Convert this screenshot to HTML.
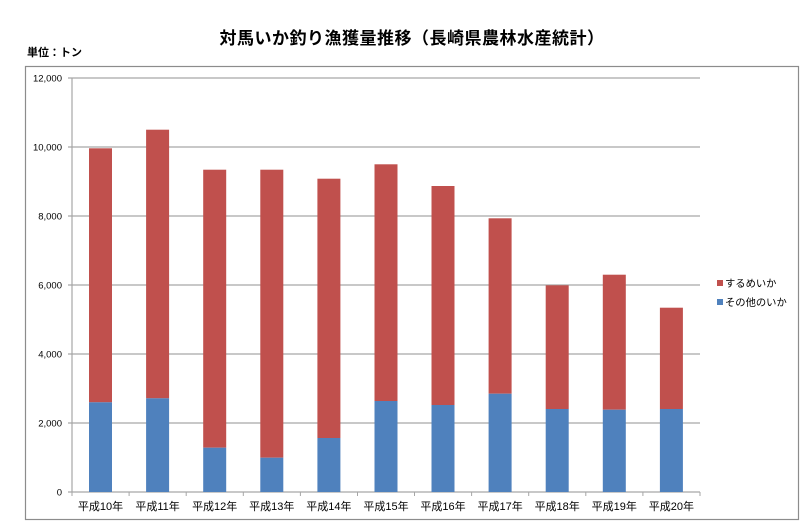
<!DOCTYPE html>
<html><head><meta charset="utf-8"><style>
html,body{margin:0;padding:0;background:#fff;}
svg{display:block;}
text{font-family:"Liberation Sans","Noto Sans CJK JP",sans-serif;fill:#000;}
</style></head><body>
<svg width="800" height="530" viewBox="0 0 800 530" xmlns="http://www.w3.org/2000/svg">
<rect x="0" y="0" width="800" height="530" fill="#fff"/>
<text x="412" y="44" text-anchor="middle" font-size="17" font-weight="bold" letter-spacing="0.5">対馬いか釣り漁獲量推移（長崎県農林水産統計）</text>
<text x="27" y="56" font-size="11" font-weight="bold">単位：トン</text>
<rect x="25.5" y="66.5" width="773" height="453" fill="none" stroke="#8c8c8c" stroke-width="1.2"/>
<g stroke="#a6a6a6" stroke-width="1.2">
<line x1="68" y1="78" x2="700" y2="78"/>
<line x1="68" y1="147" x2="700" y2="147"/>
<line x1="68" y1="216" x2="700" y2="216"/>
<line x1="68" y1="285" x2="700" y2="285"/>
<line x1="68" y1="354" x2="700" y2="354"/>
<line x1="68" y1="423" x2="700" y2="423"/>
<line x1="68" y1="492" x2="700" y2="492"/>
<line x1="72" y1="78" x2="72" y2="492"/>
</g>
<g stroke="#a6a6a6" stroke-width="1">
<line x1="72" y1="492" x2="72" y2="496"/>
<line x1="129.1" y1="492" x2="129.1" y2="496"/>
<line x1="186.2" y1="492" x2="186.2" y2="496"/>
<line x1="243.3" y1="492" x2="243.3" y2="496"/>
<line x1="300.4" y1="492" x2="300.4" y2="496"/>
<line x1="357.5" y1="492" x2="357.5" y2="496"/>
<line x1="414.5" y1="492" x2="414.5" y2="496"/>
<line x1="471.6" y1="492" x2="471.6" y2="496"/>
<line x1="528.7" y1="492" x2="528.7" y2="496"/>
<line x1="585.8" y1="492" x2="585.8" y2="496"/>
<line x1="642.9" y1="492" x2="642.9" y2="496"/>
<line x1="700" y1="492" x2="700" y2="496"/>
</g>
<g font-size="9.5" text-anchor="end">
<text x="62" y="81.5">12,000</text>
<text x="62" y="150.5">10,000</text>
<text x="62" y="219.5">8,000</text>
<text x="62" y="288.5">6,000</text>
<text x="62" y="357.5">4,000</text>
<text x="62" y="426.5">2,000</text>
<text x="62" y="495.5">0</text>
</g>
<g fill="#c0504d">
<rect x="89" y="148.3" width="23" height="254"/>
<rect x="146.1" y="129.7" width="23" height="268.6"/>
<rect x="203.2" y="169.7" width="23" height="278"/>
<rect x="260.3" y="169.7" width="23" height="288"/>
<rect x="317.4" y="178.7" width="23" height="259.3"/>
<rect x="374.5" y="164.3" width="23" height="236.7"/>
<rect x="431.5" y="186" width="23" height="219"/>
<rect x="488.6" y="218.3" width="23" height="175.4"/>
<rect x="545.7" y="285.3" width="23" height="123.7"/>
<rect x="602.8" y="274.7" width="23" height="135"/>
<rect x="659.9" y="307.7" width="23" height="101.3"/>
</g>
<g fill="#4f81bd">
<rect x="89" y="402.3" width="23" height="89.7"/>
<rect x="146.1" y="398.3" width="23" height="93.7"/>
<rect x="203.2" y="447.7" width="23" height="44.3"/>
<rect x="260.3" y="457.7" width="23" height="34.3"/>
<rect x="317.4" y="438" width="23" height="54"/>
<rect x="374.5" y="401" width="23" height="91"/>
<rect x="431.5" y="405" width="23" height="87"/>
<rect x="488.6" y="393.7" width="23" height="98.3"/>
<rect x="545.7" y="409" width="23" height="83"/>
<rect x="602.8" y="409.7" width="23" height="82.3"/>
<rect x="659.9" y="409" width="23" height="83"/>
</g>
<g font-size="11" text-anchor="middle">
<text x="100.5" y="510">平成10年</text>
<text x="157.6" y="510">平成11年</text>
<text x="214.7" y="510">平成12年</text>
<text x="271.8" y="510">平成13年</text>
<text x="328.9" y="510">平成14年</text>
<text x="386" y="510">平成15年</text>
<text x="443" y="510">平成16年</text>
<text x="500.1" y="510">平成17年</text>
<text x="557.2" y="510">平成18年</text>
<text x="614.3" y="510">平成19年</text>
<text x="671.4" y="510">平成20年</text>
</g>
<rect x="717" y="280" width="6" height="6" fill="#c0504d"/>
<rect x="717" y="299" width="6" height="6" fill="#4f81bd"/>
<g font-size="10.3">
<text x="725" y="287">するめいか</text>
<text x="725" y="306">その他のいか</text>
</g>
</svg>
</body></html>
